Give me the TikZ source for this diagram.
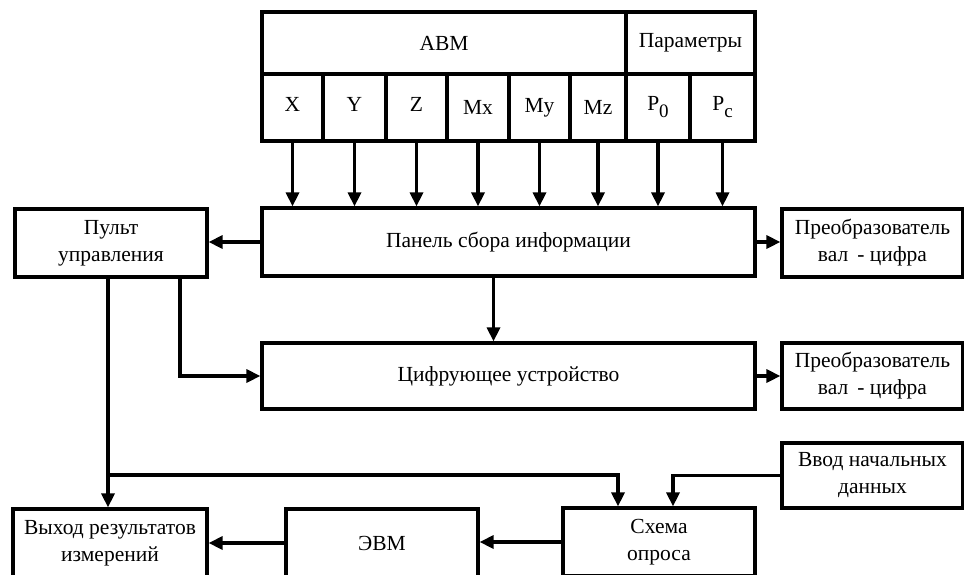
\documentclass[tikz,border=0pt]{standalone}
\usepackage{fontspec}
\setmainfont{Liberation Serif}
\usetikzlibrary{arrows.meta}
\tikzset{
  box/.style={draw, line width=3.2pt, rectangle, inner sep=0pt, align=center,
    font=\fontsize{21.5}{27}\selectfont},
  arr/.style={line width=3.2pt, -{Triangle[length=14pt,width=13pt]}},
  ln/.style={line width=3.2pt}
}
\newcommand{\sbx}[1]{\raisebox{-7pt}{\fontsize{19}{19}\selectfont #1}}
\begin{document}
\begin{tikzpicture}[x=1pt,y=-1pt]
\clip (0,0) rectangle (964,574);
\fill[white] (0,0) rectangle (964,574);
% top block
\node[box, minimum width=364pt, minimum height=62pt] (abm) at (444,43) {АВМ};
\node[box, minimum width=129pt, minimum height=62pt] (par) at (690.5,43) {Параметры};
\node[box, minimum width=61pt, minimum height=67pt] (cx) at (292.5,107.5) {\raisebox{7pt}{X}};
\node[box, minimum width=63pt, minimum height=67pt] (cy) at (354.5,107.5) {\raisebox{7pt}{Y}};
\node[box, minimum width=61pt, minimum height=67pt] (cz) at (416.5,107.5) {\raisebox{7pt}{Z}};
\node[box, minimum width=62pt, minimum height=67pt] (cmx) at (478,107.5) {Mx};
\node[box, minimum width=61pt, minimum height=67pt] (cmy) at (539.5,107.5) {My};
\node[box, minimum width=56pt, minimum height=67pt] (cmz) at (598,107.5) {Mz};
\node[box, minimum width=64pt, minimum height=67pt] (cp0) at (658,107.5) {P\sbx{0}};
\node[box, minimum width=65pt, minimum height=67pt] (cpc) at (722.5,107.5) {P\sbx{c}};
% main blocks
\node[box, minimum width=493pt, minimum height=68pt] (panel) at (508.5,242) {Панель сбора информации};
\node[box, minimum width=192pt, minimum height=68pt] (pult) at (111,243) {Пульт\\управления};
\node[box, minimum width=181pt, minimum height=68pt] (preA) at (872.5,243) {Преобразователь\\вал\, - цифра};
\node[box, minimum width=493pt, minimum height=66pt] (cifr) at (508.5,376) {Цифрующее устройство};
\node[box, minimum width=181pt, minimum height=66pt] (preB) at (872.5,376) {Преобразователь\\вал\, - цифра};
\node[box, minimum width=181pt, minimum height=65pt] (vvod) at (872.5,475.5) {Ввод начальных\\данных};
\node[box, minimum width=192pt, minimum height=68pt] (schema) at (659,542) {Схема\\опроса};
\node[box, minimum width=192pt, minimum height=68pt] (evm) at (382,543) {ЭВМ};
\node[box, minimum width=194pt, minimum height=68pt] (vyhod) at (110,543) {Выход результатов\\измерений};
% arrows from cells
\foreach \c in {cx,cy,cz,cmx,cmy,cmz,cp0,cpc}
  \draw[arr] (\c.south) -- (\c.south |- panel.north);
% connectors
\draw[arr] (panel.west) -- (panel.west -| pult.east);
\draw[arr] (panel.east) -- (panel.east -| preA.west);
\draw[arr] ([xshift=-15pt]panel.south) -- ([xshift=-15pt]cifr.north);
\draw[arr] (cifr.east) -- (cifr.east -| preB.west);
\draw[arr] ([xshift=69pt]pult.south) |- (cifr.west);
\draw[arr] ([xshift=-3pt]pult.south) -- ([xshift=-2pt]vyhod.north);
\coordinate (j) at (108,475);
\draw[arr] (j) -| ([xshift=-41pt]schema.north);
\draw[arr] (vvod.west) -| ([xshift=14pt]schema.north);
\draw[arr] (schema.west) -- (schema.west -| evm.east);
\draw[arr] (evm.west) -- (evm.west -| vyhod.east);
\end{tikzpicture}
\end{document}
